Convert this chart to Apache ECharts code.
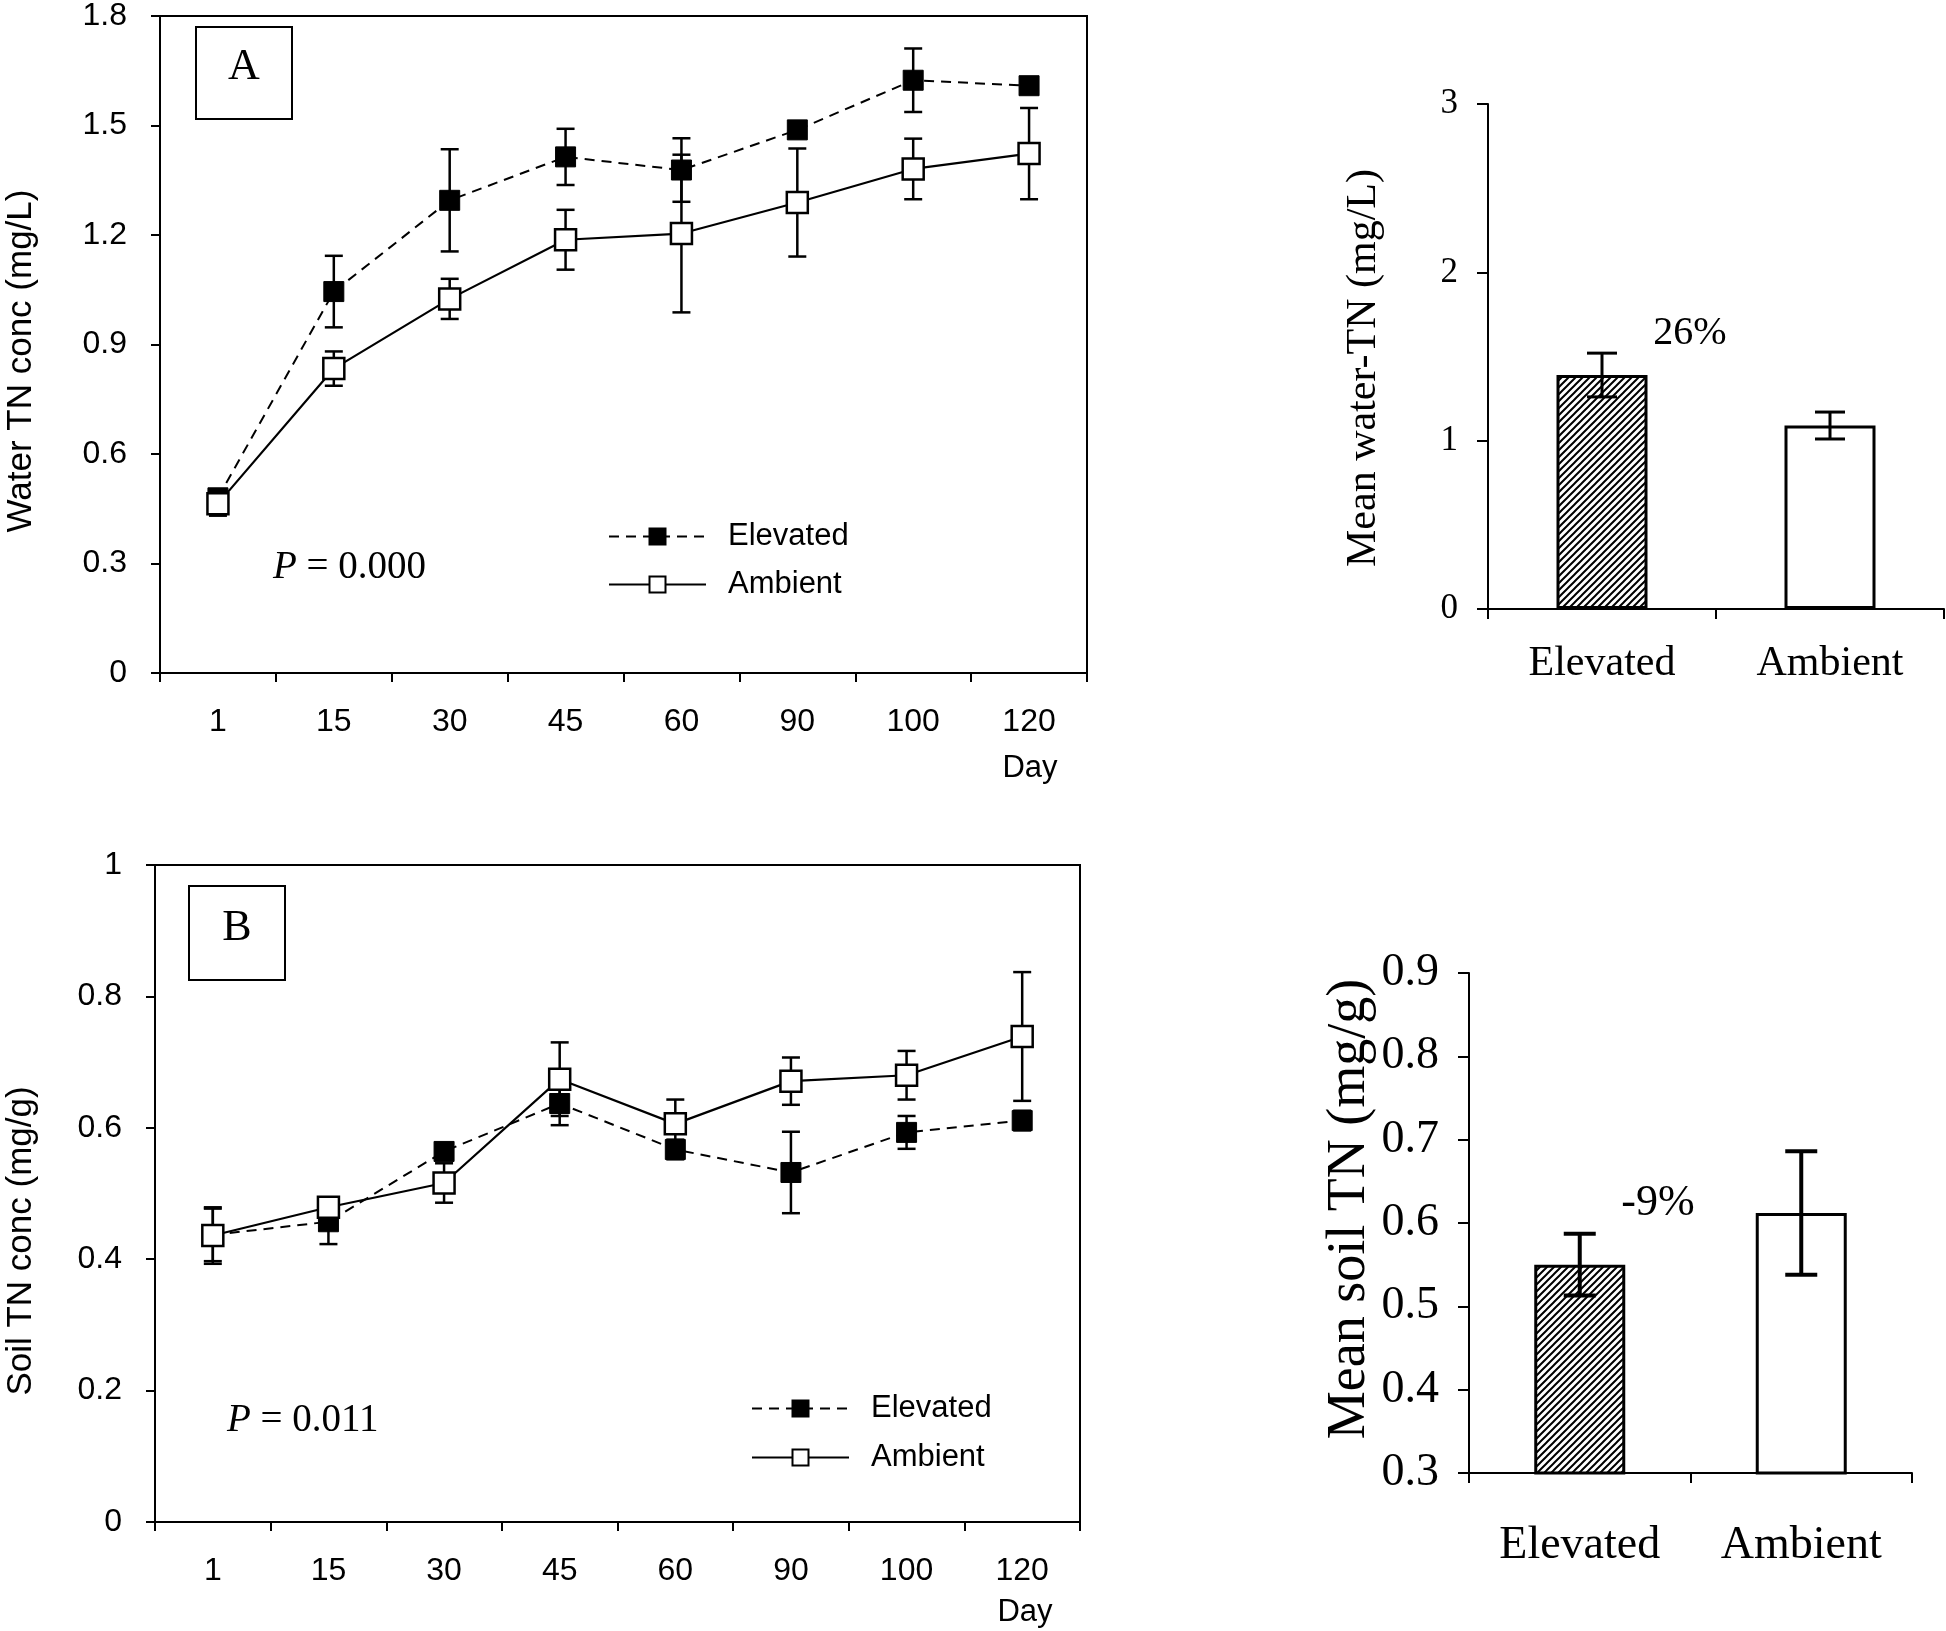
<!DOCTYPE html>
<html><head><meta charset="utf-8">
<script src="https://cdn.jsdelivr.net/npm/echarts@6/dist/echarts.min.js"></script>
<style>html,body{margin:0;padding:0;background:#fff}#c{width:1946px;height:1631px}</style>
</head><body><div id="c"></div>
<script>
// ---- data ----
const days = ['1', '15', '30', '45', '60', '90', '100', '120'];
const waterElevated    = [0.480, 1.045, 1.295, 1.414, 1.378, 1.488, 1.624, 1.609];
const waterElevatedErr = [0.020, 0.098, 0.140, 0.077, 0.087, 0.010, 0.087, 0.010];
const waterAmbient     = [0.464, 0.834, 1.025, 1.187, 1.204, 1.289, 1.381, 1.423];
const waterAmbientErr  = [0.033, 0.047, 0.055, 0.082, 0.216, 0.148, 0.083, 0.125];
const soilElevated     = [0.437, 0.457, 0.564, 0.637, 0.567, 0.532, 0.593, 0.611];
const soilElevatedErr  = [0.040, 0.034, 0.010, 0.033, 0.015, 0.062, 0.025, 0.015];
const soilAmbient      = [0.436, 0.479, 0.516, 0.674, 0.606, 0.671, 0.680, 0.739];
const soilAmbientErr   = [0.043, 0.010, 0.030, 0.056, 0.037, 0.036, 0.037, 0.098];
const treatments = ['Elevated', 'Ambient'];
const waterMean    = [1.39, 1.09];
const waterMeanErr = [0.13, 0.08];
const soilMean     = [0.550, 0.612];
const soilMeanErr  = [0.037, 0.074];
const waterTicks = { min: 0, max: 1.8, interval: 0.3 };
const soilTicks  = { min: 0, max: 1, interval: 0.2 };
const waterMeanTicks = { min: 0, max: 3, interval: 1 };
const soilMeanTicks  = { min: 0.3, max: 0.9, interval: 0.1 };

// ---- helpers ----
const SANS = 'Liberation Sans';
const SERIF = 'Liberation Serif';

function hatch() {
  const s = 7;
  const c = document.createElement('canvas');
  c.width = s; c.height = s;
  const g = c.getContext('2d');
  g.fillStyle = '#fff'; g.fillRect(0, 0, s, s);
  g.strokeStyle = '#000'; g.lineWidth = 2;
  g.beginPath();
  g.moveTo(-1, s + 1); g.lineTo(s + 1, -1);
  g.moveTo(-1, 1); g.lineTo(1, -1);
  g.moveTo(s - 1, s + 1); g.lineTo(s + 1, s - 1);
  g.stroke();
  return c;
}

function errRender(cap, lw) {
  return function (params, api) {
    const i = api.value(0), v = api.value(1), e = api.value(2);
    const t = api.coord([i, v + e]);
    const b = api.coord([i, v - e]);
    const st = { stroke: '#000', lineWidth: lw };
    return { type: 'group', children: [
      { type: 'line', shape: { x1: t[0], y1: t[1], x2: b[0], y2: b[1] }, style: st },
      { type: 'line', shape: { x1: t[0] - cap, y1: t[1], x2: t[0] + cap, y2: t[1] }, style: st },
      { type: 'line', shape: { x1: b[0] - cap, y1: b[1], x2: b[0] + cap, y2: b[1] }, style: st }
    ]};
  };
}
function errData(vals, errs) { return vals.map((v, i) => [i, v, errs[i]]); }

function lineX(idx) {
  return {
    gridIndex: idx, type: 'category', data: days, boundaryGap: true,
    axisLine: { lineStyle: { color: '#000', width: 2 } },
    axisTick: { show: true, length: 9, inside: false, lineStyle: { color: '#000', width: 2 } },
    axisLabel: { color: '#000', fontFamily: SANS, fontSize: 32, margin: 33 },
    splitLine: { show: false }
  };
}
function lineY(idx, t) {
  return {
    gridIndex: idx, type: 'value', min: t.min, max: t.max, interval: t.interval,
    axisLine: { show: true, lineStyle: { color: '#000', width: 2 } },
    axisTick: { show: true, length: 9, lineStyle: { color: '#000', width: 2 } },
    axisLabel: { color: '#000', fontFamily: SANS, fontSize: 32, margin: 33,
      formatter: v => (Math.abs(v - Math.round(v)) < 1e-9 ? String(Math.round(v)) : v.toFixed(1)) },
    splitLine: { show: false }
  };
}
function barX(idx, fs, margin) {
  return {
    gridIndex: idx, type: 'category', data: treatments, boundaryGap: true,
    axisLine: { lineStyle: { color: '#000', width: 2 } },
    axisTick: { show: true, length: 10, lineStyle: { color: '#000', width: 2 } },
    axisLabel: { color: '#000', fontFamily: SERIF, fontSize: fs, margin: margin },
    splitLine: { show: false }
  };
}
function barY(idx, t, fs, dec) {
  return {
    gridIndex: idx, type: 'value', min: t.min, max: t.max, interval: t.interval,
    axisLine: { show: true, lineStyle: { color: '#000', width: 2 } },
    axisTick: { show: true, length: 11, lineStyle: { color: '#000', width: 2 } },
    axisLabel: { color: '#000', fontFamily: SERIF, fontSize: fs, margin: 30,
      formatter: v => v.toFixed(dec) },
    splitLine: { show: false }
  };
}

function lineSeries(name, idx, vals, filled, z) {
  return {
    name: name, type: 'line', xAxisIndex: idx, yAxisIndex: idx, data: vals, z: z,
    symbol: 'rect', symbolSize: filled ? 20 : 21,
    itemStyle: filled ? { color: '#000', borderColor: '#000', borderWidth: 1 }
                      : { color: '#fff', borderColor: '#000', borderWidth: 2.5 },
    lineStyle: filled ? { color: '#000', width: 2, type: [10, 7] } : { color: '#000', width: 2.2 },
    emphasis: { disabled: true }, animation: false
  };
}
function errSeries(name, idx, vals, errs, cap, lw, z) {
  return {
    name: name, type: 'custom', xAxisIndex: idx, yAxisIndex: idx, z: z,
    renderItem: errRender(cap, lw), data: errData(vals, errs),
    encode: { x: 0, y: 1 }, animation: false, silent: true
  };
}
function barSeries(name, idx, vals) {
  return {
    name: name, type: 'bar', xAxisIndex: idx, yAxisIndex: idx, barWidth: 91, z: 2,
    data: [
      { value: vals[0], itemStyle: { color: { image: hatch(), repeat: 'repeat' }, borderColor: '#000', borderWidth: 3 } },
      { value: vals[1], itemStyle: { color: '#fff', borderColor: '#000', borderWidth: 3 } }
    ],
    emphasis: { disabled: true }, animation: false
  };
}

const legendCommon = {
  orient: 'vertical', itemWidth: 97, itemHeight: 20, padding: 0, selectedMode: false,
  data: ['Elevated', 'Ambient'],
  textStyle: { fontFamily: SANS, fontSize: 31, color: '#000', lineHeight: 31, padding: [0, 0, 0, 17] }
};

function ptext(x, y, rest) {
  return { type: 'text', left: x, top: y, style: {
    text: '{i|P}{r|' + rest + '}', rich: {
      i: { fontFamily: SERIF, fontStyle: 'italic', fontSize: 39, fill: '#000' },
      r: { fontFamily: SERIF, fontSize: 39, fill: '#000' } } } };
}

const chart = echarts.init(document.getElementById('c'), null, { renderer: 'canvas' });
chart.setOption({
  backgroundColor: '#fff',
  animation: false,
  grid: [
    { left: 160, top: 14, width: 927, height: 659, show: true, borderColor: '#000', borderWidth: 2 },
    { left: 155, top: 865, width: 925, height: 657, show: true, borderColor: '#000', borderWidth: 2 },
    { left: 1488, top: 104, width: 456, height: 505 },
    { left: 1469, top: 973, width: 443, height: 500 }
  ],
  xAxis: [lineX(0), lineX(1), barX(2, 42, 34), barX(3, 46, 50)],
  yAxis: [lineY(0, waterTicks), lineY(1, soilTicks), barY(2, waterMeanTicks, 35, 0), barY(3, soilMeanTicks, 46, 1)],
  legend: [
    Object.assign({ left: 608, top: 521 , itemGap: 17 }, legendCommon),
    Object.assign({ left: 751, top: 1393, itemGap: 18 }, legendCommon)
  ],
  series: [
    errSeries('errWE', 0, waterElevated, waterElevatedErr, 9, 2.5, 1),
    errSeries('errWA', 0, waterAmbient, waterAmbientErr, 9, 2.5, 1),
    lineSeries('Elevated', 0, waterElevated, true, 2),
    lineSeries('Ambient', 0, waterAmbient, false, 3),
    errSeries('errSE', 1, soilElevated, soilElevatedErr, 9, 2.5, 1),
    errSeries('errSA', 1, soilAmbient, soilAmbientErr, 9, 2.5, 1),
    lineSeries('Elevated', 1, soilElevated, true, 2),
    lineSeries('Ambient', 1, soilAmbient, false, 3),
    barSeries('waterMean', 2, waterMean),
    errSeries('errWM', 2, waterMean, waterMeanErr, 15, 3, 3),
    barSeries('soilMean', 3, soilMean),
    errSeries('errSM', 3, soilMean, soilMeanErr, 16, 4, 3)
  ],
  graphic: [
    { type: 'rect', shape: { x: 196, y: 27, width: 96, height: 92 }, style: { fill: '#fff', stroke: '#000', lineWidth: 2 }, z: 10 },
    { type: 'text', x: 244, y: 67, z: 11, style: { text: 'A', font: '44px "Liberation Serif"', fill: '#000', align: 'center', verticalAlign: 'middle' } },
    { type: 'rect', shape: { x: 189, y: 886, width: 96, height: 94 }, style: { fill: '#fff', stroke: '#000', lineWidth: 2 }, z: 10 },
    { type: 'text', x: 237, y: 928, z: 11, style: { text: 'B', font: '44px "Liberation Serif"', fill: '#000', align: 'center', verticalAlign: 'middle' } },
    ptext(273, 548, ' = 0.000'),
    ptext(227, 1401, ' = 0.011'),
    { type: 'text', x: 1030, y: 768, style: { text: 'Day', font: '31px "Liberation Sans"', fill: '#000', align: 'center', verticalAlign: 'middle' } },
    { type: 'text', x: 1025, y: 1612, style: { text: 'Day', font: '31px "Liberation Sans"', fill: '#000', align: 'center', verticalAlign: 'middle' } },
    { type: 'text', x: 21, y: 361, rotation: Math.PI / 2, style: { text: 'Water TN conc (mg/L)', font: '35px "Liberation Sans"', fill: '#000', align: 'center', verticalAlign: 'middle' } },
    { type: 'text', x: 21, y: 1241, rotation: Math.PI / 2, style: { text: 'Soil TN conc (mg/g)', font: '35px "Liberation Sans"', fill: '#000', align: 'center', verticalAlign: 'middle' } },
    { type: 'text', x: 1364, y: 368, rotation: Math.PI / 2, style: { text: 'Mean water-TN (mg/L)', font: '42px "Liberation Serif"', fill: '#000', align: 'center', verticalAlign: 'middle' } },
    { type: 'text', x: 1350, y: 1209, rotation: Math.PI / 2, style: { text: 'Mean soil TN (mg/g)', font: '54px "Liberation Serif"', fill: '#000', align: 'center', verticalAlign: 'middle' } },
    { type: 'text', x: 1690, y: 333, style: { text: '26%', font: '40px "Liberation Serif"', fill: '#000', align: 'center', verticalAlign: 'middle' } },
    { type: 'text', x: 1658, y: 1203, style: { text: '-9%', font: '44px "Liberation Serif"', fill: '#000', align: 'center', verticalAlign: 'middle' } }
  ]
});
</script>
</body></html>
